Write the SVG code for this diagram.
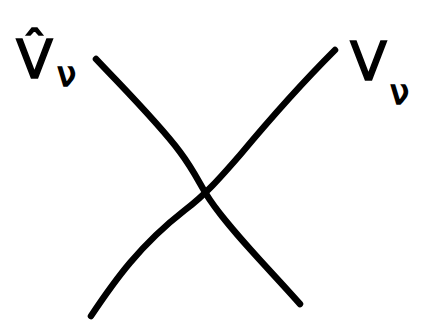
<svg xmlns="http://www.w3.org/2000/svg" width="422" height="322" viewBox="0 0 422 322">
<style>
.ln{fill:none;stroke:#000;stroke-width:6.5;stroke-linecap:round;stroke-linejoin:round}
.lb{font-family:"DejaVu Sans","Liberation Sans",sans-serif;fill:#000;stroke:#000;stroke-width:1.5}
</style>
<rect width="422" height="322" fill="#fff"/>
<g id="connectors">
<path class="ln" d="M96,59 C130,95 160,125 180,152 C195,172 200,185 210,200 C230,230 270,270 300,304"/>
<path class="ln" d="M335,50 C300,85 265,125 240,155 C220,178 205,195 185,210 C140,245 115,280 91,316"/>
</g>
<g id="label-left">
<text class="lb" x="16" y="78" font-size="54">V̂</text>
<text class="lb" x="57" y="86" font-size="34">ν</text>
</g>
<g id="label-right">
<text class="lb" x="350" y="80" font-size="54">V</text>
<text class="lb" x="390" y="104" font-size="34">ν</text>
</g>
</svg>
